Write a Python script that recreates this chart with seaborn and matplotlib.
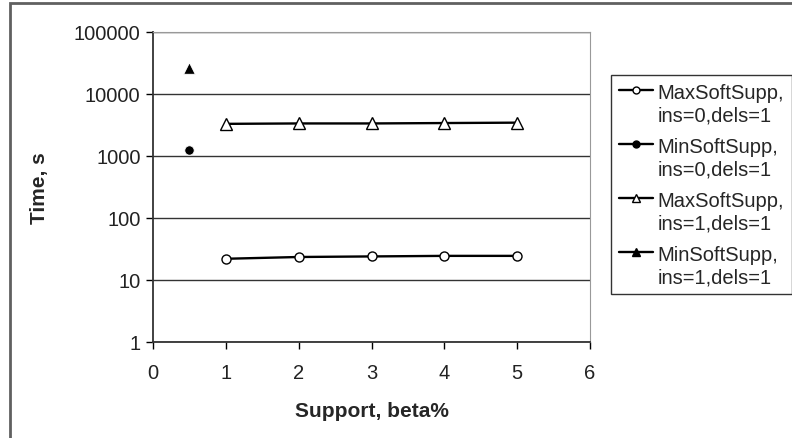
import matplotlib
matplotlib.use('Agg')
import matplotlib.pyplot as plt
import matplotlib.ticker as mticker
from matplotlib.lines import Line2D
from matplotlib.patches import Rectangle
from matplotlib.legend_handler import HandlerLine2D
import seaborn as sns
import pandas as pd

# data
support = [1, 2, 3, 4, 5]
max_ins0 = [22, 23.5, 24, 24.5, 24.5]
min_ins0_x = [0.5]
min_ins0 = [1250]
max_ins1 = [3300, 3350, 3350, 3400, 3450]
min_ins1_x = [0.5]
min_ins1 = [26000]

labels = ['MaxSoftSupp,\nins=0,dels=1', 'MinSoftSupp,\nins=0,dels=1',
          'MaxSoftSupp,\nins=1,dels=1', 'MinSoftSupp,\nins=1,dels=1']
y_ticks = [1, 10, 100, 1000, 10000, 100000]

sns.set_style('white')
plt.rcParams['font.family'] = ['Liberation Sans', 'DejaVu Sans']


# legend handle sits on the first line of the two-line label
class TopHandler(HandlerLine2D):
    def create_artists(self, legend, orig_handle, xdescent, ydescent, width, height, fontsize, trans):
        return super().create_artists(legend, orig_handle, xdescent, ydescent - 1.4 * fontsize,
                                      width, height, fontsize, trans)


fig = plt.figure(figsize=(7.92, 4.39), dpi=100)
ax = fig.add_axes([153 / 792, 1 - 343 / 439, 437 / 792, 310 / 439])

# outer chart frame
fig.patches.append(Rectangle((10 / 792, -0.1), 1.2, 1.1 - 4 / 439, transform=fig.transFigure,
                             fill=False, edgecolor='#606060', linewidth=2, zorder=0))

df0 = pd.DataFrame({'x': support, 'y': max_ins0})
df1 = pd.DataFrame({'x': support, 'y': max_ins1})

sns.lineplot(data=df0, x='x', y='y', ax=ax, color='black', linewidth=1.7, marker='o',
             markersize=6.5, markerfacecolor='white', markeredgecolor='black', markeredgewidth=1, zorder=3)
sns.lineplot(data=df1, x='x', y='y', ax=ax, color='black', linewidth=1.7, marker='^',
             markersize=9, markerfacecolor='white', markeredgecolor='black', markeredgewidth=1, zorder=3)
sns.scatterplot(x=min_ins0_x, y=min_ins0, ax=ax, color='black', marker='o', s=45, zorder=3)
sns.scatterplot(x=min_ins1_x, y=min_ins1, ax=ax, color='black', marker='^', s=70, zorder=3)

ax.set_yscale('log')
ax.set_xlim(0, 6)
ax.set_ylim(1, 100000)
ax.set_xticks(range(0, 7))
ax.yaxis.set_major_locator(mticker.FixedLocator(y_ticks))
ax.yaxis.set_major_formatter(mticker.FixedFormatter([str(v) for v in y_ticks]))
ax.yaxis.set_minor_locator(mticker.NullLocator())
ax.tick_params(axis='both', which='major', direction='out', length=5, width=1,
               color='black', labelsize=14.5, labelcolor='#222222', left=True, bottom=True)
ax.tick_params(axis='x', pad=10)
ax.tick_params(axis='y', pad=4)

ax.grid(True, axis='y', color='#333333', linewidth=1)
ax.spines['left'].set_color('#333333')
ax.spines['bottom'].set_color('#333333')
ax.spines['left'].set_linewidth(1.3)
ax.spines['bottom'].set_linewidth(1.3)
ax.spines['top'].set_color('#999999')
ax.spines['right'].set_color('#999999')

ax.set_xlabel('Support, beta%', fontsize=15, fontweight='bold', labelpad=14)
ax.set_ylabel('Time, s', fontsize=15, fontweight='bold', labelpad=18)

handles = [
    Line2D([], [], color='black', lw=1.7, marker='o', ms=5, mfc='white', mec='black'),
    Line2D([], [], color='black', lw=1.7, marker='o', ms=5, mfc='black', mec='black'),
    Line2D([], [], color='black', lw=1.7, marker='^', ms=6, mfc='white', mec='black'),
    Line2D([], [], color='black', lw=1.7, marker='^', ms=6, mfc='black', mec='black'),
]
leg = fig.legend(handles, labels, loc='upper left', bbox_to_anchor=(611 / 792, 1 - 76 / 439),
                 fontsize=14.5, frameon=True, fancybox=False, handlelength=1.7,
                 handletextpad=0.2, borderpad=0.4, labelspacing=0.6, borderaxespad=0,
                 handler_map={Line2D: TopHandler()})
leg.get_frame().set_edgecolor('black')
leg.get_frame().set_linewidth(1)
for t in leg.get_texts():
    t.set_linespacing(1.25)

fig.savefig('out.png', dpi=100)
